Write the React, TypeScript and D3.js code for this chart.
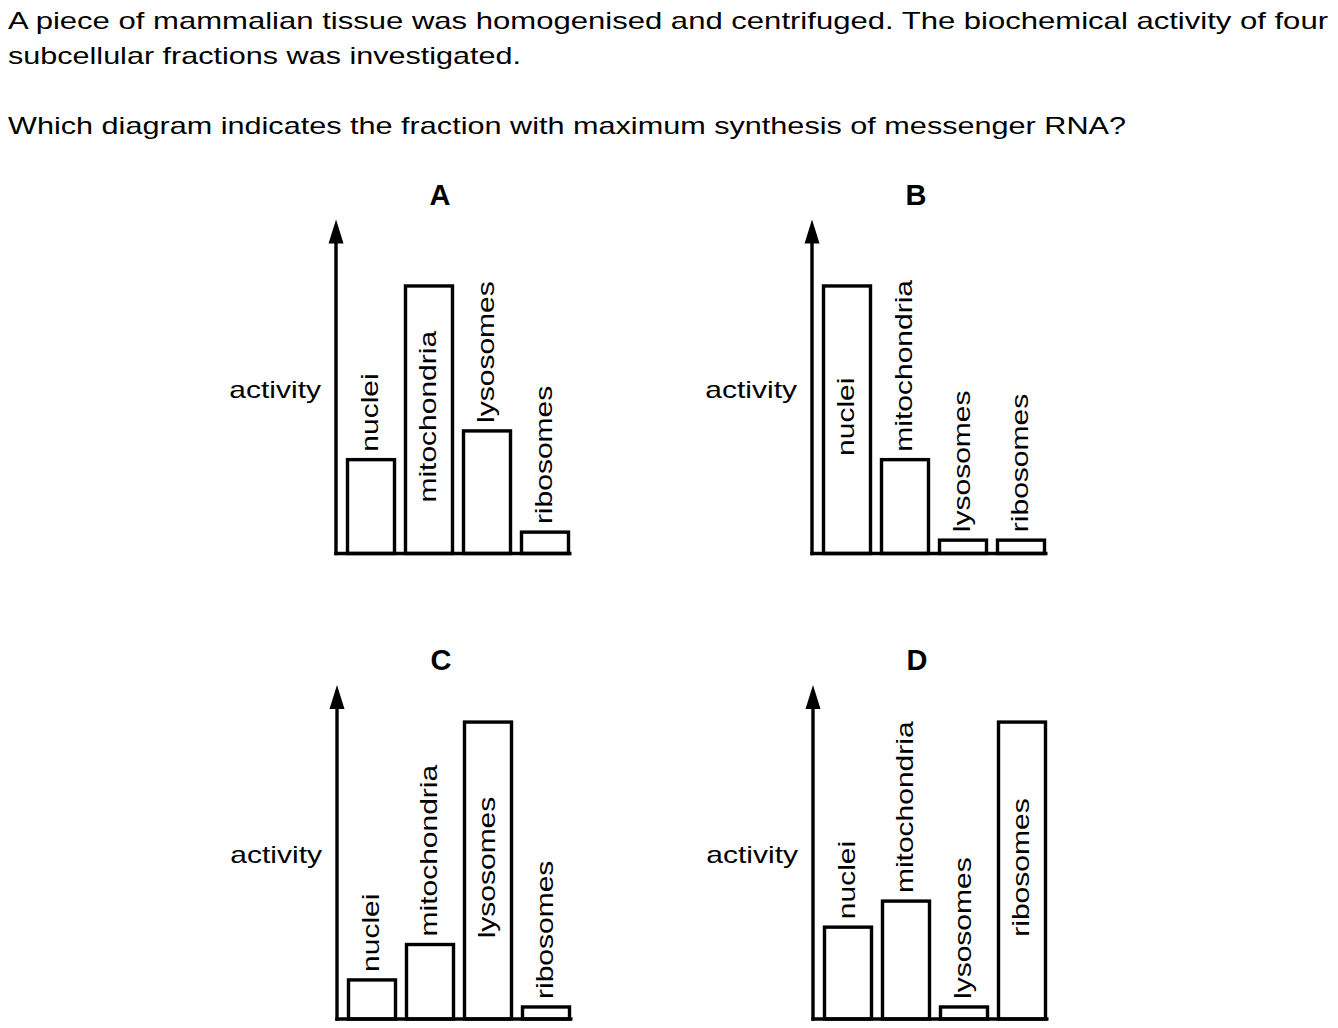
import React from "react";
import * as d3 from "d3";

// ---- data ----
const fractions = ["nuclei", "mitochondria", "lysosomes", "ribosomes"];
const panelLetters = ["A", "B", "C", "D"];
// activity as % of the y-axis arrow length
const activityA = [28.1, 80.1, 36.7, 6.4];
const activityB = [80.1, 28.1, 4.0, 4.0];
const activityC = [11.7, 22.3, 88.9, 3.6];
const activityD = [27.5, 35.3, 3.6, 88.9];
const yAxisLabel = "activity";
const questionLines = [
  "A piece of mammalian tissue was homogenised and centrifuged. The biochemical activity of four",
  "subcellular fractions was investigated.",
  "",
  "Which diagram indicates the fraction with maximum synthesis of messenger RNA?",
];

// ---- layout ----
const W = 1338;
const H = 1028;
const FONT = "'Liberation Sans', Arial, Helvetica, sans-serif";
const FS = 24;
const SX = 1.25;
const AXIS_LEN = 334;
const SW = 3.4;
const questionWidths = [1320, 513, 0, 1118];

const panelLayout = [
  { axisX: 336, baseY: 553.5 },
  { axisX: 812, baseY: 553.5 },
  { axisX: 337, baseY: 1019 },
  { axisX: 813, baseY: 1019 },
];
const panelValues = [activityA, activityB, activityC, activityD];

function Panel({ letter, values, axisX, baseY }: { letter: string; values: number[]; axisX: number; baseY: number }) {
  const tipY = baseY - AXIS_LEN;
  const y = d3.scaleLinear().domain([0, 100]).range([baseY, tipY]);
  const x = d3
    .scaleBand<string>()
    .domain(fractions)
    .range([axisX + 11.5, axisX + 11.5 + 221])
    .paddingInner(11 / 58)
    .paddingOuter(0);
  const maxV = d3.max(values) as number;
  const bw = x.bandwidth();
  return (
    <g>
      <text
        x={axisX + 104}
        y={tipY - 15}
        textAnchor="middle"
        fontFamily={FONT}
        fontWeight="bold"
        fontSize={29}
      >
        {letter}
      </text>
      {fractions.map((f, i) => {
        const v = values[i];
        const x0 = x(f) as number;
        return (
          <rect
            key={f}
            x={x0}
            y={y(v)}
            width={bw}
            height={baseY - y(v)}
            fill="#fff"
            stroke="#000"
            strokeWidth={SW}
          />
        );
      })}
      {fractions.map((f, i) => {
        const v = values[i];
        const cx = (x(f) as number) + bw / 2;
        const inside = v === maxV;
        const ly = inside ? (y(v) + baseY) / 2 - 3 : y(v) - 8;
        return (
          <text
            key={f}
            transform={`translate(${cx + 7},${ly}) rotate(-90) scale(${SX},1)`}
            textAnchor={inside ? "middle" : "start"}
            fontFamily={FONT}
            fontSize={FS}
            fill="#000"
          >
            {f}
          </text>
        );
      })}
      <line x1={axisX - SW / 2} x2={x.range()[1] + 3} y1={baseY} y2={baseY} stroke="#000" strokeWidth={SW} />
      <line x1={axisX} x2={axisX} y1={baseY + SW / 2} y2={tipY + 20} stroke="#000" strokeWidth={SW} />
      <path d={`M${axisX},${tipY} L${axisX - 7.5},${tipY + 24} L${axisX + 7.5},${tipY + 24} Z`} fill="#000" />
      <text
        transform={`translate(${axisX - 15},${(baseY + tipY) / 2 + 11}) scale(${SX},1)`}
        textAnchor="end"
        fontFamily={FONT}
        fontSize={FS}
      >
        {yAxisLabel}
      </text>
    </g>
  );
}

export default function App() {
  return (
    <svg
      width={W}
      height={H}
      style={{ position: "absolute", left: 0, top: 0, background: "#fff" }}
    >
      <rect x={0} y={0} width={W} height={H} fill="#fff" />
      {questionLines.map((t, i) =>
        t ? (
          <text
            key={i}
            x={8}
            y={28.5 + i * 35}
            textLength={questionWidths[i]}
            lengthAdjust="spacingAndGlyphs"
            fontFamily={FONT}
            fontSize={FS}
          >
            {t}
          </text>
        ) : null
      )}
      {panelLetters.map((L, i) => (
        <Panel key={L} letter={L} values={panelValues[i]} axisX={panelLayout[i].axisX} baseY={panelLayout[i].baseY} />
      ))}
    </svg>
  );
}
